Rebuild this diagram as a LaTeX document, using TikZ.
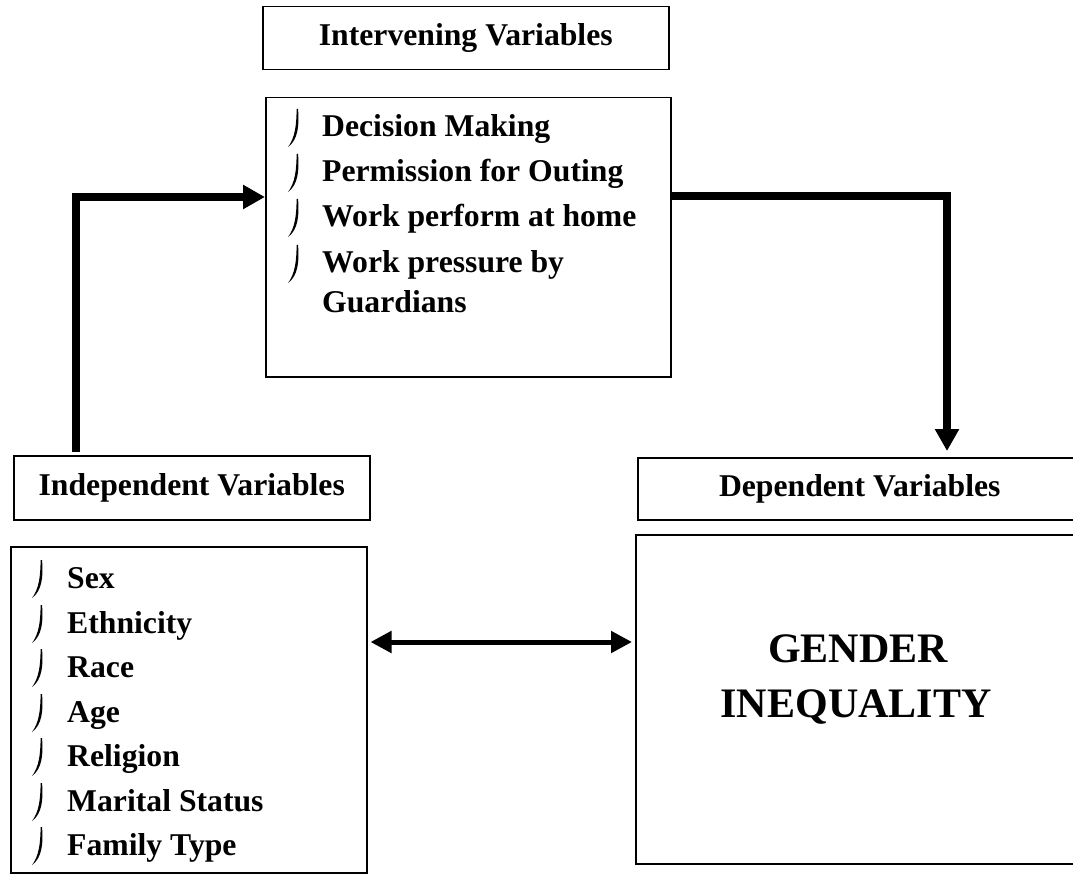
\documentclass[tikz,border=0pt]{standalone}
\usepackage{fontspec}
\setmainfont{Liberation Serif}
\usetikzlibrary{arrows.meta,calc}
\begin{document}
\begin{tikzpicture}[x=1pt,y=-1pt,
  box/.style={draw,line width=1.5pt,inner sep=0pt,anchor=north west},
  lbl/.style={font=\fontsize{31.7}{38}\selectfont\bfseries,inner sep=0pt},
  item/.style={lbl,anchor=base west},
  big/.style={font=\fontsize{42}{50}\selectfont\bfseries,inner sep=0pt,anchor=base},
  bul/.pic={\fill (10,-28) .. controls (11.5,-12) and (10,3) .. (0,10) .. controls (7,1) and (8.5,-12) .. (8.6,-28) -- cycle;},
  bigarrow/.style={line width=7.5pt,-{Triangle[length=22pt,width=23pt]}},
  dblarrow/.style={line width=5pt,{Triangle[length=21pt,width=21pt]}-{Triangle[length=21pt,width=21pt]}}]
\useasboundingbox (0,0) rectangle (1073,874);
\clip (0,0) rectangle (1073,874);

% boxes
\node[box,lbl,minimum width=406pt,minimum height=63pt] (intTitle) at (262,6) {Intervening Variables};
\node[box,minimum width=405pt,minimum height=279pt] (interv) at (265,97) {};
\node[box,lbl,minimum width=356pt,minimum height=64pt] (indTitle) at (13,455) {Independent Variables};
\node[box,minimum width=356pt,minimum height=326pt] (indList) at (10,546) {};
\node[box,lbl,minimum width=444pt,minimum height=62pt] (depTitle) at (637,457) {Dependent Variables};
\node[box,minimum width=444pt,minimum height=329pt] (gender) at (635,534) {};

% intervening items
\foreach \y/\t [count=\i] in {137/Decision Making,182/Permission for Outing,227/Work perform at home,273/Work pressure by}{
  \pic at (288,\y) {bul};
  \node[item] (iv\i) at (322,\y) {\t};
}
\node[item] (iv5) at (322,313) {Guardians};

% independent items
\foreach \y/\t [count=\i] in {588/Sex,633/Ethnicity,677/Race,722/Age,766/Religion,811/Marital Status,855/Family Type}{
  \pic at (32,\y) {bul};
  \node[item] (in\i) at (67,\y) {\t};
}

% gender inequality
\node[big] (g1) at (858,662) {GENDER};
\node[big] (g2) at (856,717) {INEQUALITY};

% connectors
\coordinate (s1) at ($(indTitle.north west)+(63,-3)$);
\draw[bigarrow] (s1) |- ($(interv.north west)+(0,100)$);
\draw[bigarrow] ($(interv.north east)+(0,99)$) -| ($(depTitle.north west)+(310,-6)$);
\draw[dblarrow] ($(indList.north east)+(3,96)$) -- ($(gender.north west)+(-3,108)$);
\end{tikzpicture}
\end{document}
